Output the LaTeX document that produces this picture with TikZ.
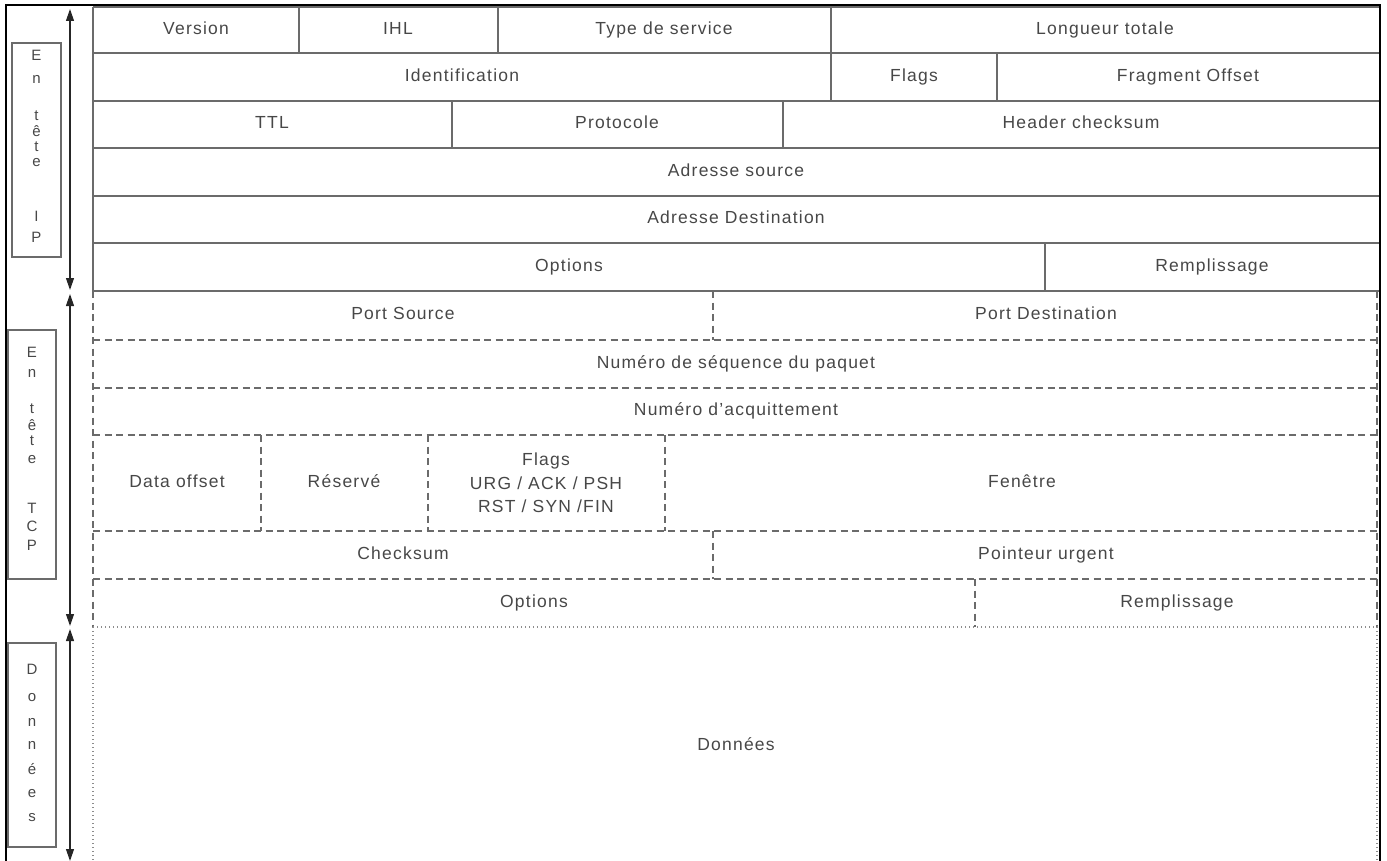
\documentclass[tikz,border=0pt]{standalone}
\usepackage{fontspec}
\setmainfont{Liberation Sans}[LetterSpace=7]
\usetikzlibrary{arrows.meta}

\begin{document}
\begin{tikzpicture}[x=1pt,y=-1pt,
  txt/.style={text=black!72, font=\fontsize{17.5}{23.5}\selectfont, inner sep=0pt, align=center},
  field/.style={txt, text height=12.5pt, text depth=3.5pt},
  letter/.style={text=black!72, font=\fontsize{15}{18}\selectfont, inner sep=0pt,
    text height=11pt, text depth=3pt},
  ipline/.style={draw=black!58, line width=1.4pt},
  tcpline/.style={draw=black!58, line width=1.4pt, dash pattern=on 7pt off 4.5pt},
  dataline/.style={draw=black!45, line width=1.2pt, dash pattern=on 1.2pt off 2.8pt},
  frameline/.style={draw=black, line width=2pt},
  span/.style={draw=black!85, line width=1.2pt,
    {Triangle[length=12pt,width=8pt]}-{Triangle[length=12pt,width=8pt]}},
  tag/.style={draw=black!58, line width=1.4pt, inner sep=0pt}
]
\useasboundingbox (0,0) rectangle (1387,861);

% ---------- IP header grid (solid) ----------
\foreach \y in {7,53,101,148,196,243,291}
  \draw[ipline] (93,\y) -- (1379,\y);
\draw[ipline] (93,7) -- (93,291);
\foreach \x in {299,498,831} \draw[ipline] (\x,7) -- (\x,53);
\foreach \x in {831,997} \draw[ipline] (\x,53) -- (\x,101);
\foreach \x in {452,783} \draw[ipline] (\x,101) -- (\x,148);
\draw[ipline] (1045,243) -- (1045,291);

% ---------- TCP header grid (dashed) ----------
\foreach \y in {340,388,435,531,579}
  \draw[tcpline] (93,\y) -- (1379,\y);
\draw[tcpline] (93,291) -- (93,627);
\draw[tcpline] (1377,291) -- (1377,627);
\draw[tcpline] (713,291) -- (713,340);
\foreach \x in {261,428,665} \draw[tcpline] (\x,435) -- (\x,531);
\draw[tcpline] (713,531) -- (713,579);
\draw[tcpline] (975,579) -- (975,627);

% ---------- data area (dotted) ----------
\draw[dataline] (93,627) -- (1379,627);
\draw[dataline] (93,627) -- (93,861);
\draw[dataline] (1377,627) -- (1377,861);

% ---------- outer frame ----------
\draw[frameline] (6,861) -- (6,5) -- (1380,5) -- (1380,861);

% ---------- IP header fields ----------
\node[field] (version)  at (196,30)  {Version};
\node[field] (ihl)      at (398,30)  {IHL};
\node[field] (tos)      at (664,30)  {Type de service};
\node[field] (totlen)   at (1105,30) {Longueur totale};
\node[field] (ident)    at (462,77)  {Identification};
\node[field] (ipflags)  at (914,77)  {Flags};
\node[field] (fragoff)  at (1188,77) {Fragment Offset};
\node[field] (ttl)      at (272,124) {TTL};
\node[field] (proto)    at (617,124) {Protocole};
\node[field] (hcheck)   at (1081,124) {Header checksum};
\node[field] (src)      at (736,172) {Adresse source};
\node[field] (dst)      at (736,219) {Adresse Destination};
\node[field] (ipopt)    at (569,267) {Options};
\node[field] (ippad)    at (1212,267) {Remplissage};

% ---------- TCP header fields ----------
\node[field] (sport)    at (403,315) {Port Source};
\node[field] (dport)    at (1046,315) {Port Destination};
\node[field] (seq)      at (736,364) {Numéro de séquence du paquet};
\node[field] (ack)      at (736,411) {Numéro d’acquittement};
\node[field] (doff)     at (177,483) {Data offset};
\node[field] (resv)     at (344,483) {Réservé};
\node[txt]   (tcpflags) at (546,483) {Flags\\URG / ACK / PSH\\RST / SYN /FIN};
\node[field] (window)   at (1022,483) {Fenêtre};
\node[field] (csum)     at (403,555) {Checksum};
\node[field] (urg)      at (1046,555) {Pointeur urgent};
\node[field] (tcpopt)   at (534,603) {Options};
\node[field] (tcppad)   at (1177,603) {Remplissage};

% ---------- payload ----------
\node[field] (data)     at (736,746) {Données};

% ---------- side tags ----------
\node[tag, minimum width=49pt, minimum height=214pt] (iptag)  at (36.5,150) {};
\node[tag, minimum width=48pt, minimum height=249pt] (tcptag) at (32,454.5) {};
\node[tag, minimum width=48pt, minimum height=204pt] (datatag) at (32,745) {};

\foreach \c/\y [count=\i] in {E/57,n/80,t/117,ê/133,t/148,e/163,I/218,P/239}
  \node[letter] (ipl\i) at (36.5,\y) {\c};
\foreach \c/\y [count=\i] in {E/353,n/373,t/409,ê/426,t/441,e/459,T/509,C/527,P/546}
  \node[letter] (tcpl\i) at (32,\y) {\c};
\foreach \c/\y [count=\i] in {D/670,o/697,n/722,n/745,é/770,e/793,s/817}
  \node[letter] (datal\i) at (32,\y) {\c};

% ---------- extent arrows ----------
\coordinate (ipTop)   at (70,9);
\coordinate (ipBot)   at (70,290);
\coordinate (tcpTop)  at (70,294);
\coordinate (tcpBot)  at (70,626);
\coordinate (dataTop) at (70,629);
\coordinate (dataBot) at (70,861);
\draw[span] (ipTop) -- (ipBot);
\draw[span] (tcpTop) -- (tcpBot);
\draw[span] (dataTop) -- (dataBot);
\end{tikzpicture}
\end{document}
